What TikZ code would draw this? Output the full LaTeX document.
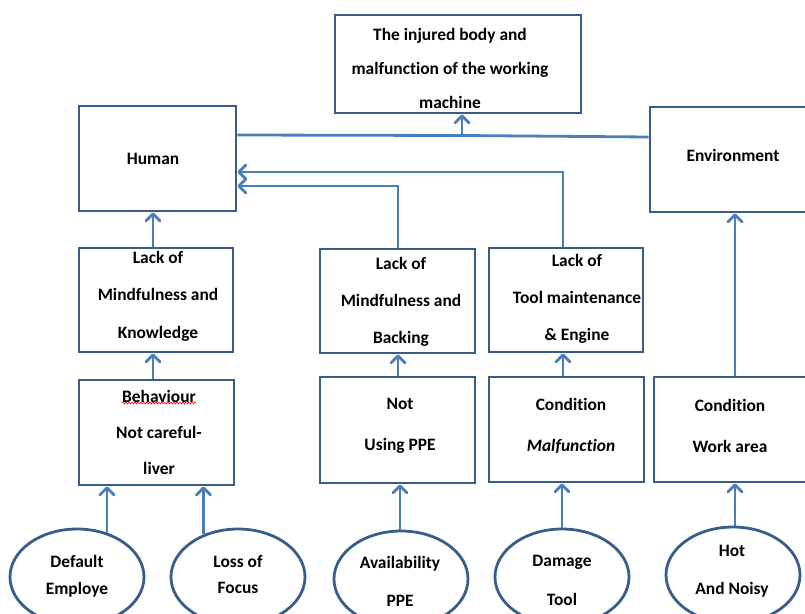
\documentclass[tikz,border=0pt]{standalone}
\usepackage{fontspec}
\setmainfont{Carlito}[Ligatures=NoCommon]
\usetikzlibrary{arrows.meta,shapes.geometric,decorations.pathmorphing}
\definecolor{boxline}{HTML}{385D8A}
\definecolor{arrowline}{HTML}{4A7EBB}
\tikzset{
  box/.style={draw=boxline, line width=2.8pt, rectangle, inner sep=0pt},
  oval/.style={draw=boxline, line width=2.8pt, ellipse, inner sep=0pt,
    minimum width=134pt, minimum height=96pt},
  txt/.style={align=center, inner sep=0pt,
    font=\fontsize{17.4pt}{#1}\selectfont\bfseries},
  txt/.default=36pt,
  arr/.style={draw=arrowline, line width=2.8pt,
    -{Straight Barb[length=7pt,width=14pt,round]}},
  link/.style={draw=arrowline, line width=2.8pt},
}
\begin{document}
\begin{tikzpicture}[x=1pt, y=-1pt]
\useasboundingbox (0,0) rectangle (805,613);

% boxes
\node[box, minimum width=246pt, minimum height=98pt]  (top)   at (458,64) {};
\node[box, minimum width=157pt, minimum height=105pt] (human) at (157.5,158.5) {};
\node[box, minimum width=158pt, minimum height=105pt] (env)   at (729,159.5) {};
\node[box, minimum width=154pt, minimum height=104pt] (know)  at (156,300) {};
\node[box, minimum width=155pt, minimum height=105pt] (behav) at (156.5,432.5) {};
\node[box, minimum width=155pt, minimum height=104pt] (back)  at (397.5,301) {};
\node[box, minimum width=155pt, minimum height=106pt] (ppe)   at (397.5,430) {};
\node[box, minimum width=154pt, minimum height=104pt] (tool)  at (566,300) {};
\node[box, minimum width=155pt, minimum height=105pt] (malf)  at (566.5,429.5) {};
\node[box, minimum width=156pt, minimum height=105pt] (work)  at (732,429.5) {};

% ovals
\node[oval] (e1) at (77,577) {};
\node[oval] (e2) at (238,577) {};
\node[oval] (e3) at (401,579) {};
\node[oval] (e4) at (562,577) {};
\node[oval] (e5) at (733,575) {};

% texts
\node[txt=34pt] (ttop)   at (450,68)  {The injured body and\\malfunction of the working\\machine};
\node[txt]      (thuman) at (153,159) {Human};
\node[txt]      (tenv)   at (733,155) {Environment};
\node[txt=37.5pt] (tknow) at (158,296) {Lack of\\Mindfulness and\\Knowledge};
\node[txt=36pt] (tbehav) at (159,432) {Behaviour\\Not careful-\\liver};
\node[txt=37pt] (tback)  at (401,302) {Lack of\\Mindfulness and\\Backing};
\node[txt=41pt] (tppe)   at (400,425.5) {Not\\Using PPE};
\node[txt=37pt] (ttool)  at (577,299) {Lack of\\Tool maintenance\\\& Engine};
\node[txt=41pt] (tmalf)  at (571,425.5) {Condition\\\textit{Malfunction}};
\node[txt=41pt] (twork)  at (730,425.5) {Condition\\Work area};
\node[txt=27pt] (te1)    at (77,576.5) {Default\\Employe};
\node[txt=26pt] (te2)    at (238,575) {Loss of\\Focus};
\node[txt=38pt] (te3)    at (400,581) {Availability\\PPE};
\node[txt=39pt] (te4)    at (562,580.5) {Damage\\Tool};
\node[txt=38pt] (te5)    at (732,571) {Hot\\And Noisy};

% spell-check mark under "Behaviour"
\coordinate (sq1) at (122,403);
\coordinate (sq2) at (196,403);
\draw[red, line width=0.6pt, decorate,
  decoration={snake, segment length=3pt, amplitude=0.9pt}] (sq1) -- (sq2);

% human -- environment link feeding the top box
\coordinate (j) at (462,135.5);
\draw[link] (human.east |- 0,135) -- (j) -- (env.west |- 0,137);
\draw[arr] (j) -- (top.south -| j);

% left column
\draw[arr] (know.north -| 153,0) -- (human.south -| 153,0);
\draw[arr] (behav.north -| 153,0) -- (know.south -| 153,0);
\draw[arr] (e1.56) -- (e1.56 |- behav.south);
\draw[arr] (e2.129) -- (e2.129 |- behav.south);

% middle column
\draw[arr] (back.north -| 398,0) |- (human.east |- 0,186);
\draw[arr] (ppe.north -| 398,0) -- (back.south -| 398,0);
\draw[arr] (e3.north -| 400,0) -- (ppe.south -| 400,0);

% tool column
\draw[arr] (tool.north -| 563,0) |- (human.east |- 0,172);
\draw[arr] (malf.north -| 563,0) -- (tool.south -| 563,0);
\draw[arr] (e4.north) -- (malf.south -| e4.north);

% environment column
\draw[arr] (work.north -| 735,0) -- (env.south -| 735,0);
\draw[arr] (e5.north -| 735,0) -- (work.south -| 735,0);
\end{tikzpicture}
\end{document}
